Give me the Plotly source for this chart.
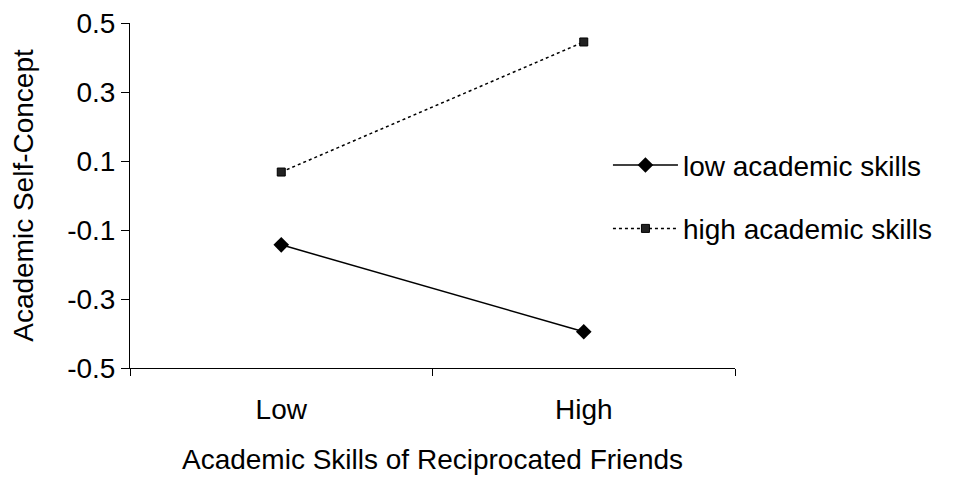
import plotly.graph_objects as go

categories = ["Low", "High"]
low_skills = [-0.143, -0.395]
high_skills = [0.068, 0.445]
series_names = ["low academic skills", "high academic skills"]
y_tickvals = [-0.5, -0.3, -0.1, 0.1, 0.3, 0.5]
y_ticktext = ["-0.5", "-0.3", "-0.1", "0.1", "0.3", "0.5"]

FONT = "Liberation Sans, Arial, sans-serif"
FS = 28

fig = go.Figure()
fig.add_trace(go.Scatter(
    x=categories, y=low_skills, name=series_names[0], mode="lines+markers",
    line=dict(color="black", width=1.5, dash="solid"),
    marker=dict(symbol="diamond", size=12, color="black"),
    legendgroup="a",
))
fig.add_trace(go.Scatter(
    x=categories, y=high_skills, name=series_names[1], mode="lines+markers",
    line=dict(color="black", width=1.5, dash="dot"),
    marker=dict(symbol="square", size=8, color="#222222", line=dict(color="black", width=1)),
    legendgroup="b",
))

fig.update_layout(
    width=951, height=471,
    margin=dict(l=122, r=224, t=15, b=111),
    paper_bgcolor="white", plot_bgcolor="white",
    font=dict(family=FONT, size=FS, color="black"),
    legend=dict(x=0.79, xanchor="left", y=0.66, yanchor="top", bgcolor="rgba(0,0,0,0)",
                font=dict(size=FS), itemwidth=65, tracegroupgap=24),
    xaxis=dict(
        type="category", range=[-0.5, 1.5], tickson="boundaries",
        showline=True, linecolor="black", linewidth=1,
        ticks="outside", ticklen=7, tickcolor="black",
        showgrid=False, zeroline=False, automargin=False,
        ticklabelstandoff=16, ticklabeloverflow="allow",
        title=dict(text="Academic Skills of Reciprocated Friends", standoff=25, font=dict(size=FS)),
        tickfont=dict(size=FS),
    ),
    yaxis=dict(
        range=[-0.5, 0.5], tickvals=y_tickvals, ticktext=y_ticktext,
        showline=True, linecolor="black", linewidth=1,
        ticks="outside", ticklen=8, tickcolor="black",
        showgrid=False, zeroline=False, automargin=False,
        ticklabeloverflow="allow",
        title=dict(text="Academic Self-Concept", standoff=30, font=dict(size=FS)),
        tickfont=dict(size=FS),
    ),
)

fig.write_html("out.html")
